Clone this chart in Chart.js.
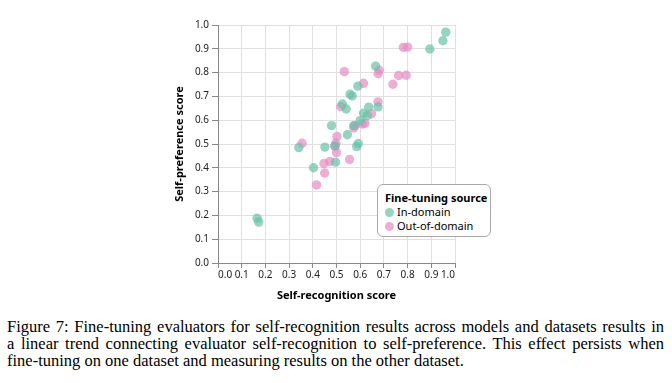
<!DOCTYPE html>
<html>
<head>
<meta charset="utf-8">
<script src="https://cdn.jsdelivr.net/npm/chart.js@4.4.0/dist/chart.umd.min.js"></script>
<style>
  html, body { margin: 0; padding: 0; background: #fff; }
  #wrap { position: relative; width: 672px; height: 383px; overflow: hidden; }
  #chartBox { position: absolute; left: 0; top: 0; width: 672px; height: 310px; }
  #legend { position: absolute; left: 377px; top: 184px; width: 114px; height: 53px;
    border: 1px solid #a8a8a8; border-radius: 6px; background: #fff; box-sizing: border-box;
    font-family: "Noto Sans", "Open Sans", sans-serif; color: #000; }
  #legend .ttl { position: absolute; left: 7px; top: 5px; font-size: 11px; font-weight: bold; white-space: nowrap; }
  #legend .item { position: absolute; left: 7px; font-size: 11px; white-space: nowrap; line-height: 14px; }
  #legend .dot { display: inline-block; width: 9px; height: 9px; border-radius: 50%; margin-right: 3px; vertical-align: -1px; }
  #caption { position: absolute; left: 7px; top: 317.5px; width: 657px;
    font-family: "Liberation Serif", "Times New Roman", serif; font-size: 16.5px; line-height: 17px; color: #000; }
  #caption .j { text-align: justify; text-align-last: justify; }
  #caption .n { white-space: nowrap; }
</style>
</head>
<body>
<div id="wrap">
  <div id="chartBox"><canvas id="c" width="672" height="310"></canvas></div>
  <div id="legend"></div>
  <div id="caption">
    <div class="j">Figure 7: Fine-tuning evaluators for self-recognition results across models and datasets results in</div>
    <div class="j">a linear trend connecting evaluator self-recognition to self-preference. This effect persists when</div>
    <div class="n">fine-tuning on one dataset and measuring results on the other dataset.</div>
  </div>
</div>
<script>
// ---- data ----
const seriesNames = ['In-domain', 'Out-of-domain'];
const legendTitle = 'Fine-tuning source';
const xTitle = 'Self-recognition score';
const yTitle = 'Self-preference score';
const tickLabels = ['0.0','0.1','0.2','0.3','0.4','0.5','0.6','0.7','0.8','0.9','1.0'];

const inDomainX = [0.961,0.949,0.894,0.665,0.590,0.557,0.566,0.525,0.541,0.636,0.675,0.614,0.630,0.600,0.573,0.546,0.479,0.341,0.451,0.494,0.496,0.585,0.592,0.403,0.165,0.172];
const inDomainY = [0.970,0.934,0.899,0.827,0.743,0.709,0.702,0.668,0.647,0.655,0.656,0.629,0.619,0.598,0.577,0.539,0.577,0.485,0.487,0.492,0.424,0.489,0.502,0.400,0.188,0.172];

const outDomainX = [0.782,0.800,0.762,0.794,0.738,0.680,0.676,0.533,0.614,0.675,0.518,0.648,0.620,0.609,0.578,0.573,0.502,0.497,0.493,0.355,0.500,0.555,0.472,0.447,0.450,0.416];
const outDomainY = [0.906,0.907,0.788,0.789,0.751,0.810,0.795,0.804,0.755,0.677,0.657,0.627,0.586,0.584,0.577,0.568,0.532,0.503,0.491,0.503,0.464,0.435,0.427,0.418,0.378,0.328];

const colors = ['rgba(102,194,165,0.7)', 'rgba(231,138,195,0.7)'];

function pts(xs, ys) { return xs.map((x, i) => ({ x: x, y: ys[i] })); }

const FONT = '"Noto Sans", "Open Sans", sans-serif';

const ctx = document.getElementById('c').getContext('2d');
const chart = new Chart(ctx, {
  type: 'scatter',
  data: {
    datasets: [
      { label: seriesNames[0], data: pts(inDomainX, inDomainY), backgroundColor: colors[0], borderWidth: 0, pointRadius: 4.7 },
      { label: seriesNames[1], data: pts(outDomainX, outDomainY), backgroundColor: colors[1], borderWidth: 0, pointRadius: 4.7 }
    ]
  },
  options: {
    responsive: false,
    animation: false,
    devicePixelRatio: 1,
    layout: { padding: { left: 168, right: 217, top: 25, bottom: 0 } },
    plugins: { legend: { display: false }, tooltip: { enabled: false } },
    scales: {
      x: {
        type: 'linear', min: 0, max: 1,
        ticks: { stepSize: 0.1, align: 'inner', padding: 1, color: '#222', maxRotation: 0,
          font: { family: FONT, size: 10 },
          callback: (v, i) => tickLabels[i] },
        grid: { color: '#e0e0e0', tickLength: 5, tickColor: '#888' },
        border: { color: '#888' },
        title: { display: true, text: xTitle, color: '#000', padding: { top: 4, bottom: 8 },
          font: { family: FONT, size: 11, weight: 'bold' } },
        afterFit: s => { s.height = 47; }
      },
      y: {
        type: 'linear', min: 0, max: 1,
        ticks: { stepSize: 0.1, padding: 3, color: '#222',
          font: { family: FONT, size: 10 },
          callback: (v, i) => tickLabels[i] },
        grid: { color: '#e0e0e0', tickLength: 6, tickColor: '#888' },
        border: { color: '#888' },
        title: { display: true, text: yTitle, color: '#000', padding: { top: 5, bottom: 4 },
          font: { family: FONT, size: 11, weight: 'bold' } },
        afterFit: s => { s.width = 50; }
      }
    }
  }
});

// HTML legend built from the datasets
const lg = document.getElementById('legend');
const t = document.createElement('div'); t.className = 'ttl'; t.textContent = legendTitle; lg.appendChild(t);
chart.data.datasets.forEach((ds, i) => {
  const it = document.createElement('div'); it.className = 'item';
  it.style.top = (20 + i * 14) + 'px';
  const d = document.createElement('span'); d.className = 'dot'; d.style.background = ds.backgroundColor;
  it.appendChild(d);
  it.appendChild(document.createTextNode(ds.label));
  lg.appendChild(it);
});
</script>
</body>
</html>
